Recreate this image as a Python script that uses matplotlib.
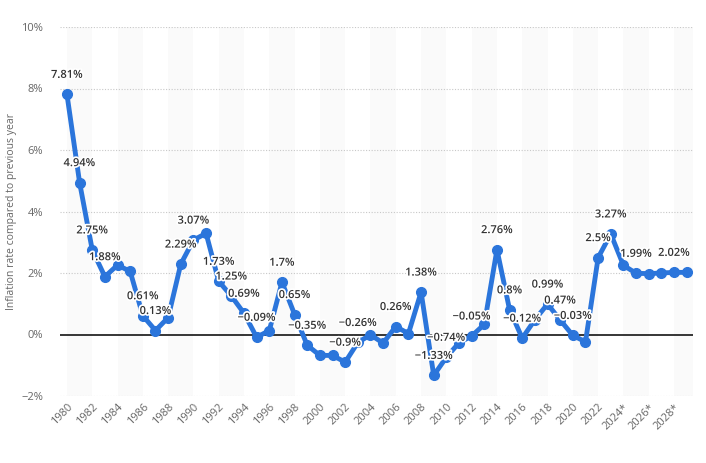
import numpy as np
import matplotlib
matplotlib.use("Agg")
from matplotlib import pyplot as plt
import matplotlib.patheffects as pe

plt.rcParams['font.family'] = ['Open Sans', 'DejaVu Sans']

# inflation rate compared to previous year, 1980-2029 (2024 onwards are forecasts)
years = list(range(1980, 2030))
inflation = [7.81, 4.94, 2.75, 1.88, 2.26, 2.05, 0.61, 0.13, 0.55, 2.29,
             3.07, 3.29, 1.73, 1.25, 0.69, -0.09, 0.13, 1.7, 0.65, -0.35,
             -0.68, -0.68, -0.9, -0.26, -0.01, -0.28, 0.26, 0.03, 1.38, -1.33,
             -0.74, -0.27, -0.05, 0.33, 2.76, 0.8, -0.12, 0.48, 0.99, 0.47,
             -0.03, -0.24, 2.5, 3.27, 2.25, 1.99, 1.98, 2.0, 2.02, 2.02]
labelled_years = [1980, 1981, 1982, 1983, 1986, 1987, 1989, 1990, 1992, 1993,
                  1994, 1995, 1997, 1998, 1999, 2002, 2003, 2006, 2008, 2009,
                  2010, 2012, 2014, 2015, 2016, 2018, 2019, 2020, 2022, 2023,
                  2025, 2028]
tick_years = list(range(1980, 2030, 2))
tick_labels = [str(y) + ("*" if y >= 2024 else "") for y in tick_years]
y_ticks = [-2, 0, 2, 4, 6, 8, 10]


def fmt_pct(v: float) -> str:
    s = "{:g}%".format(abs(v))
    return ("\u2212" + s) if v < 0 else s


fig = plt.figure(figsize=(7.06, 4.63), dpi=100)
ax = fig.add_axes([60 / 706, 67 / 463, 633 / 706, 369 / 463])

# alternating background bands
for start in range(1980, 2030, 4):
    ax.axvspan(start, start + 2, color="#fafafa", zorder=0, lw=0)

ax.set_xlim(1979.45, 2029.5)
ax.set_ylim(-2, 10)

for t in y_ticks:
    if t == 0:
        ax.axhline(0, color="black", lw=1.1, zorder=1)
    else:
        ax.axhline(t, color="#c8c8c8", lw=0.8, ls=(0, (1, 1.5)), zorder=1)

ax.plot(years, inflation, color="#2b75db", lw=3.5, marker="o", ms=7,
        solid_capstyle="round", solid_joinstyle="round", zorder=3)

for yr in labelled_years:
    v = inflation[years.index(yr)]
    ax.annotate(fmt_pct(v), (yr, v), xytext=(0, 19), textcoords="offset pixels",
                ha="center", va="center", fontsize=8, fontweight="semibold",
                color="#333333", zorder=4,
                path_effects=[pe.withStroke(linewidth=2.5, foreground="white")])

ax.set_yticks(y_ticks)
ax.set_yticklabels([f"{t}%" if t >= 0 else f"\u2212{abs(t)}%" for t in y_ticks])
ax.set_xticks(tick_years)
ax.set_xticklabels(tick_labels, rotation=45, ha="right", rotation_mode="anchor")
ax.tick_params(axis="both", length=0, labelsize=8, colors="#666666")
ax.tick_params(axis="y", pad=12)
ax.tick_params(axis="x", pad=4)
for spine in ax.spines.values():
    spine.set_visible(False)

ax.set_ylabel("Inflation rate compared to previous year", fontsize=7.5,
              color="#666666", labelpad=3)

fig.savefig("out.png", dpi=100)
